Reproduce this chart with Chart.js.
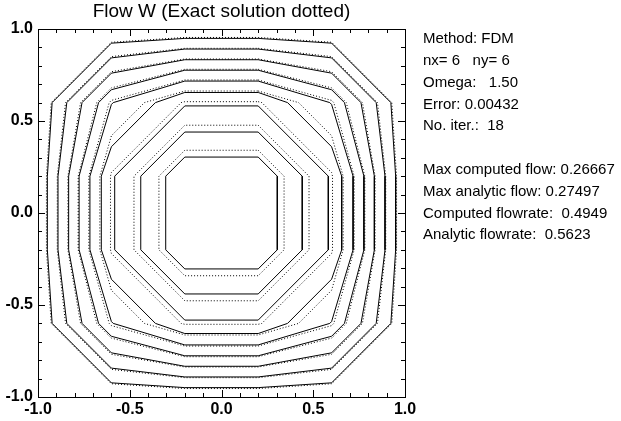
<!DOCTYPE html>
<html>
<head>
<meta charset="utf-8">
<script src="https://cdn.jsdelivr.net/npm/chart.js@4.4.1/dist/chart.umd.min.js"></script>
<style>
  html, body { margin: 0; padding: 0; background: #fff; }
  canvas { display: block; }
</style>
</head>
<body>
<canvas id="chart" width="621" height="421"></canvas>
<script>
// contour crossings (top-right octant, 6x6 grid)
// A = y where the contour crosses x = 0.2, B = crossing near the x = 0.6 / y = 0.6 corner
const computedA = [0.949, 0.891, 0.833, 0.776, 0.717, 0.655, 0.582, 0.440, 0.304];
const computedB = [0.923, 0.843, 0.760, 0.670, 0.590, 0.360, null, null, null];
const exactA = [0.954, 0.895, 0.837, 0.781, 0.723, 0.663, 0.605, 0.477, 0.341];
const exactB = [0.928, 0.850, 0.768, 0.680, 0.612, 0.420, 0.220, null, null];
const gridInner = 0.2;
const gridOuter = 0.6;

const axisTicks = [-1, -0.5, 0, 0.5, 1];
const minorTicks = [-0.9, -0.8, -0.7, -0.6, -0.4, -0.3, -0.2, -0.1, 0.1, 0.2, 0.3, 0.4, 0.6, 0.7, 0.8, 0.9];

const titleText = 'Flow W (Exact solution dotted)';
const infoLines = [
  'Method: FDM',
  'nx= 6   ny= 6',
  'Omega:   1.50',
  'Error: 0.00432',
  'No. iter.:  18',
  '',
  'Max computed flow: 0.26667',
  'Max analytic flow: 0.27497',
  'Computed flowrate:  0.4949',
  'Analytic flowrate:  0.5623'
];

const FONT = '"Liberation Sans", Arial, Helvetica, sans-serif';

// closed polygon from the octant crossings, mirrored to the 4 quadrants
function contour(a, b) {
  let tr = [[gridInner, a]];
  if (b !== null) {
    const lo = Math.min(b, gridOuter), hi = Math.max(b, gridOuter);
    tr.push([lo, hi], [hi, lo]);
  }
  tr.push([a, gridInner]);
  const rev = tr.slice().reverse();
  const pts = [
    ...tr,
    ...rev.map(p => [p[0], -p[1]]),
    ...tr.map(p => [-p[0], -p[1]]),
    ...rev.map(p => [-p[0], p[1]])
  ];
  pts.push(pts[0]);
  return pts.map(p => ({ x: p[0], y: p[1] }));
}

const datasets = [];
computedA.forEach((a, i) => {
  datasets.push({
    data: contour(a, computedB[i]),
    showLine: true, borderColor: '#000', borderWidth: 1,
    pointRadius: 0, fill: false, tension: 0
  });
});
exactA.forEach((a, i) => {
  datasets.push({
    data: contour(a, exactB[i]),
    showLine: true, borderColor: '#000', borderWidth: 1, borderDash: [1, 2],
    pointRadius: 0, fill: false, tension: 0
  });
});

const framePlugin = {
  id: 'frame',
  afterDraw(chart) {
    const { ctx, chartArea: ca, scales } = chart;
    const xs = scales.x, ys = scales.y;
    ctx.save();
    ctx.strokeStyle = '#000';
    ctx.lineWidth = 1;
    ctx.strokeRect(Math.round(ca.left) + 0.5, Math.round(ca.top) + 0.5,
      Math.round(ca.right - ca.left), Math.round(ca.bottom - ca.top));
    ctx.beginPath();
    const mark = (v, len) => {
      const px = Math.round(xs.getPixelForValue(v)) + 0.5;
      const py = Math.round(ys.getPixelForValue(v)) + 0.5;
      ctx.moveTo(px, ca.bottom); ctx.lineTo(px, ca.bottom - len);
      ctx.moveTo(px, ca.top); ctx.lineTo(px, ca.top + len);
      ctx.moveTo(ca.left, py); ctx.lineTo(ca.left + len, py);
      ctx.moveTo(ca.right, py); ctx.lineTo(ca.right - len, py);
    };
    axisTicks.forEach(v => mark(v, 7));
    minorTicks.forEach(v => mark(v, 4));
    ctx.stroke();

    // info panel
    ctx.fillStyle = '#000';
    ctx.font = '15px ' + FONT;
    ctx.textAlign = 'left';
    ctx.textBaseline = 'middle';
    infoLines.forEach((t, i) => {
      if (t) ctx.fillText(t, 423, 39 + i * 21.8);
    });
    ctx.restore();
  }
};

new Chart(document.getElementById('chart'), {
  type: 'scatter',
  data: { datasets },
  options: {
    responsive: false,
    animation: false,
    devicePixelRatio: 1,
    layout: { padding: { top: 0, right: 216, left: 0, bottom: 0 } },
    plugins: {
      legend: { display: false },
      tooltip: { enabled: false },
      title: {
        display: true,
        text: titleText,
        fullSize: false,
        color: '#000',
        font: { family: FONT, size: 19, weight: 'normal' },
        padding: { top: 0.5, bottom: 5.7 }
      }
    },
    scales: {
      x: {
        type: 'linear', min: -1, max: 1,
        grid: { display: false, drawTicks: false },
        border: { display: false },
        ticks: {
          stepSize: 0.5, padding: 3, color: '#000',
          font: { family: FONT, size: 16, weight: 'bold' },
          callback: v => v.toFixed(1)
        },
        afterFit: s => { s.height = 24; }
      },
      y: {
        type: 'linear', min: -1, max: 1,
        grid: { display: false, drawTicks: false },
        border: { display: false },
        ticks: {
          stepSize: 0.5, padding: 5, color: '#000',
          font: { family: FONT, size: 16, weight: 'bold' },
          callback: v => v.toFixed(1)
        },
        afterFit: s => { s.width = 38; }
      }
    }
  },
  plugins: [framePlugin]
});
</script>
</body>
</html>
